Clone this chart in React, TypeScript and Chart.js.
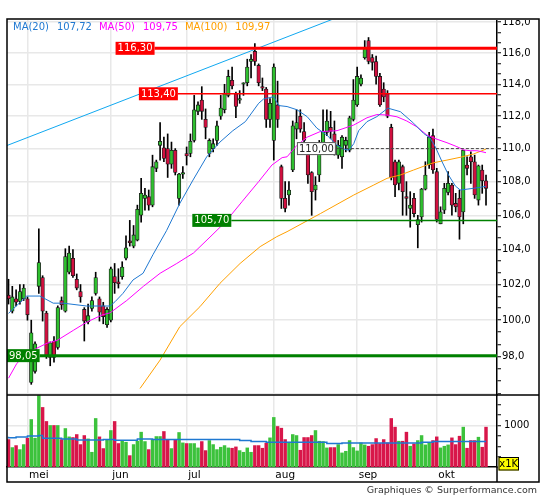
import React, { useEffect, useRef } from 'react';
import { Chart, registerables } from 'chart.js';

Chart.register(...registerables);

// ---------------- data ----------------
const opens = [
  101.4, 100.5, 101.2, 101.05, 101.2, 101.2, 96.6, 97.2, 101.9, 102.4,
  100.4, 97.95, 98.85, 98.5, 101.1, 100.5, 102.7, 103.5, 102.3, 101.6,
  100.6, 99.9, 100.65, 101.5, 101.2, 100.8, 99.75, 100.0, 102.45, 102.15,
  102.45, 103.5, 104.5, 104.2, 104.55, 106.0, 107.0, 107.1, 106.6, 108.8,
  110.2, 110.05, 110.0, 109.05, 109.9, 107.0, 108.45, 109.7, 109.7, 110.5,
  112.3, 113.0, 111.8, 109.7, 110.0, 110.5, 112.0, 112.4, 113.3, 114.25,
  113.4, 113.0, 114.0, 114.1, 115.45, 116.1, 115.2, 113.85, 113.7, 111.8,
  110.5, 112.7, 108.9, 107.0, 107.2, 108.7, 111.2, 112.0, 111.05, 109.7,
  108.55, 107.5, 108.4, 110.25, 111.0, 111.3, 110.9, 109.6, 109.5, 110.2,
  109.9, 111.8, 112.7, 114.0, 115.7, 116.8, 115.7, 115.45, 114.5, 113.7,
  113.4, 111.3, 109.2, 107.9, 108.9, 107.1, 106.4, 107.0, 105.45, 105.9,
  107.55, 109.0, 110.8, 108.6, 105.5, 106.3, 107.35, 107.8, 106.7, 107.0,
  106.2, 109.0, 109.5, 109.2, 106.9, 108.7, 108.05,
];
const highs = [
  102.3, 101.9, 101.7, 102.0, 102.0, 101.3, 100.0, 98.8, 105.2, 102.5,
  100.5, 98.8, 99.1, 100.8, 101.3, 104.05, 104.2, 104.0, 102.6, 102.0,
  100.7, 100.9, 101.3, 102.7, 101.3, 101.0, 100.7, 103.0, 103.2, 102.9,
  103.3, 104.8, 105.7, 105.4, 106.6, 108.2, 107.6, 107.5, 109.6, 109.3,
  111.6, 110.7, 110.9, 110.4, 110.0, 108.5, 108.9, 110.1, 110.9, 113.3,
  112.9, 113.85, 112.45, 110.6, 110.6, 111.7, 113.3, 114.0, 114.9, 115.1,
  113.5, 113.6, 114.1, 115.6, 115.9, 116.6, 115.3, 114.4, 113.8, 113.1,
  115.3, 114.2, 109.0, 108.0, 108.0, 111.7, 112.4, 112.4, 111.6, 109.8,
  108.6, 108.3, 110.5, 112.4, 112.4, 112.3, 111.7, 110.5, 110.8, 110.7,
  112.0, 114.3, 115.1, 114.6, 116.8, 117.0, 115.9, 115.8, 114.7, 114.1,
  113.6, 111.5, 109.3, 109.3, 109.0, 108.0, 107.4, 107.3, 106.0, 107.6,
  109.2, 111.0, 111.2, 108.8, 106.5, 107.9, 108.6, 107.9, 107.3, 107.5,
  109.9, 109.5, 109.8, 109.6, 109.0, 109.0, 108.4,
];
const lows = [
  100.9, 100.4, 100.8, 100.9, 101.1, 100.0, 96.5, 97.1, 101.5, 99.95,
  97.9, 97.5, 97.7, 98.4, 100.6, 100.45, 102.6, 102.4, 101.7, 101.0,
  98.85, 99.8, 100.5, 101.4, 99.95, 99.8, 99.6, 99.9, 101.5, 101.8,
  102.3, 103.4, 104.2, 104.1, 104.5, 105.6, 106.3, 106.3, 106.5, 108.6,
  109.3, 109.2, 108.25, 108.8, 108.4, 106.6, 108.2, 109.0, 109.5, 110.4,
  112.1, 111.8, 110.6, 109.5, 109.8, 110.2, 111.8, 112.2, 113.2, 113.7,
  111.9, 112.8, 113.3, 113.9, 114.4, 115.2, 113.9, 113.6, 111.3, 111.3,
  109.3, 111.3, 106.4, 106.2, 106.6, 108.6, 110.6, 111.0, 110.0, 107.9,
  106.0, 106.9, 108.0, 109.7, 110.8, 110.6, 109.6, 109.4, 108.8, 109.8,
  109.8, 111.7, 112.6, 113.9, 115.6, 115.3, 114.9, 114.0, 112.6, 112.9,
  111.9, 108.1, 107.1, 107.5, 106.0, 106.0, 105.3, 105.9, 104.1, 105.6,
  107.5, 108.8, 108.5, 105.6, 105.5, 106.1, 107.2, 106.0, 106.2, 104.6,
  105.5, 108.4, 107.9, 107.0, 106.6, 107.3, 106.6,
];
const closes = [
  101.2, 101.3, 101.0, 101.6, 101.8, 100.3, 99.3, 98.7, 103.25, 100.5,
  98.0, 98.75, 97.95, 100.7, 100.85, 103.6, 103.8, 102.5, 101.8, 101.3,
  99.95, 100.25, 101.1, 102.4, 100.45, 100.2, 100.6, 102.9, 102.1, 102.05,
  103.0, 104.1, 104.4, 104.85, 106.35, 107.3, 107.2, 106.6, 108.9, 109.2,
  110.45, 109.4, 109.05, 109.9, 108.55, 108.45, 108.55, 109.55, 110.45, 112.4,
  112.7, 112.3, 111.3, 110.5, 110.3, 111.4, 112.5, 113.4, 114.5, 113.9,
  112.6, 113.1, 114.05, 115.1, 115.6, 115.45, 114.1, 113.75, 111.8, 112.8,
  115.1, 111.8, 107.0, 106.4, 107.5, 111.4, 111.6, 111.2, 110.5, 108.4,
  107.4, 107.8, 110.25, 111.05, 111.7, 111.05, 110.3, 110.2, 110.7, 110.5,
  111.9, 113.0, 114.5, 114.4, 116.3, 115.45, 115.4, 114.5, 112.7, 113.2,
  112.0, 108.25, 107.8, 109.2, 107.4, 107.0, 106.6, 106.1, 105.75, 107.55,
  108.4, 110.7, 108.7, 105.75, 106.2, 107.6, 107.9, 106.6, 106.5, 105.9,
  109.9, 108.8, 109.2, 107.2, 108.95, 108.05, 107.6,
];
const volumes = [
  661, 468, 516, 419, 540, 694, 1145, 694, 1720, 1435,
  1097, 1000, 1000, 1000, 661, 927, 726, 710, 782, 540,
  758, 677, 355, 1169, 726, 444, 661, 879, 1097, 565,
  621, 597, 274, 540, 621, 839, 613, 419, 661, 734,
  734, 855, 645, 444, 661, 831, 581, 565, 565, 565,
  460, 613, 395, 637, 540, 419, 476, 516, 460, 452,
  484, 395, 355, 460, 355, 516, 516, 452, 573, 702,
  1194, 976, 935, 661, 597, 782, 758, 403, 710, 710,
  758, 879, 621, 613, 460, 468, 468, 540, 339, 379,
  637, 468, 387, 581, 532, 500, 540, 685, 565, 661,
  581, 1169, 960, 621, 621, 839, 500, 556, 637, 758,
  532, 581, 637, 726, 460, 500, 532, 702, 540, 742,
  960, 452, 637, 637, 718, 476, 960,
];

const monthStartIdx = [5, 27, 47, 70, 92, 113];
const monthLabels = ['mei', 'jun', 'jul', 'aug', 'sep', 'okt'];
const priceTicks = [96, 98, 100, 102, 104, 106, 108, 110, 112, 114, 116, 118];
const priceLabelTicks = [98, 100, 102, 104, 106, 108, 110, 112, 114, 116, 118];
const volumeTicks = [250, 500, 750, 1000, 1250, 1500];
const volumeLabelTicks = [1000];

const ma20Idx = [0, 4.8, 8.3, 11.8, 14.4, 20.6, 26.8, 28.1, 30.2, 32.85, 35.5, 38.1, 41.7, 45.2, 48.7, 52.3, 55.8, 59.2, 62.5, 66, 67.3, 70, 71.3, 73.5, 76.1, 78.8, 81.4, 84, 86.7, 88.4, 89.8, 91.1, 92.4, 94.6, 97.2, 100.1, 103.4, 106.9, 109.5, 111.3, 112.6, 114.4, 116.1, 117.9, 119.2, 121, 122.7, 124.5, 126];
const ma20Val = [100.38, 101.35, 101.35, 100.95, 100.95, 100.79, 100.79, 101.03, 101.5, 102.26, 102.64, 103.7, 105.1, 106.7, 108.1, 109.5, 110.4, 111.1, 111.66, 112.8, 113.07, 113.22, 112.66, 112.6, 112.4, 111.97, 111.25, 110.83, 110.2, 109.98, 109.9, 110.3, 111.1, 111.66, 111.97, 112.5, 112.28, 111.56, 110.94, 110.63, 110.12, 109.2, 108.4, 107.74, 107.5, 107.55, 107.6, 107.66, 107.72];

const ma50Idx = [0, 2.2, 4.9, 7.5, 10.2, 12.8, 17.2, 20.7, 24.7, 26.8, 31.2, 35.6, 40, 44.4, 48.8, 53.7, 57.2, 61.6, 66, 69.5, 72.2, 73.5, 76.1, 78.8, 82.2, 86.7, 91.1, 94.6, 97.2, 99.9, 102.5, 105.1, 107.8, 110.4, 113.1, 115.7, 118.3, 120.1, 121.8, 123.6, 124.9, 126];
const ma50Val = [96.83, 97.63, 98.17, 98.46, 98.73, 98.88, 99.45, 99.9, 100.29, 100.41, 101.1, 101.9, 102.64, 103.2, 103.8, 104.84, 105.6, 106.8, 108.0, 109.0, 109.45, 109.5, 110.2, 110.7, 111.04, 111.1, 111.45, 111.9, 112.1, 112.07, 111.96, 111.7, 111.33, 110.83, 110.57, 110.36, 110.12, 109.92, 109.87, 109.87, 109.81, 109.75];

const ma100Idx = [34.7, 40, 45.2, 50.5, 55.8, 61.1, 66.4, 70.8, 73.5, 82.3, 91.1, 96.4, 99.9, 103.4, 106.9, 110.4, 112.2, 115.7, 119.2, 122.7, 126];
const ma100Val = [96.28, 97.81, 99.64, 100.75, 102.07, 103.2, 104.17, 104.75, 105.04, 106.1, 107.2, 107.8, 108.2, 108.4, 108.7, 109.0, 109.14, 109.3, 109.47, 109.67, 109.97];

const volMaIdx = [0, 2, 5, 8, 9, 14, 18, 25, 28, 34, 38, 61, 64, 68, 84, 88, 109, 112, 121, 126];
const volMaVal = [726, 702, 720, 745, 758, 694, 677, 653, 661, 645, 677, 660, 640, 613, 597, 565, 581, 597, 613, 613];

const trendIdx = [-0.5, 100];
const trendVal = [110.18, 119.6];

const levelValues = [116.3, 113.4, 110.0, 105.7, 98.05];
const levelLabelIdx = [28.25, 34.4, 76.1, 48.5, -0.4];

// ---------------- styles / layout ----------------
const W = 545;
const H = 500;
const PAD_L = 7;
const PAD_R = 6;
const AXIS_W = 42;
const FRAME_TOP = 19;
const SPLIT = 395;
const VOL_BOTTOM = 467;
const DATE_H = 15;
const X_MIN = -0.4;
const X_MAX = 128.9;
const Y_MIN = 95.93;
const Y_MAX = 118.21;
const V_MAX = 1735;

const GREEN = '#2fbf2f';
const RED = '#d1103f';
const VGREEN = '#3cc23c';
const VRED = '#d8164a';
const C20 = '#1f78d1';
const C50 = '#ff00ff';
const C100 = '#ffa000';
const CTREND = '#10a8f0';
const GRID = '#e8e8e8';
const FONT = "'DejaVu Sans', sans-serif";

const levelStyles = [
  { line: '#ff0000', width: 3, fill: '#ff0000', text: '#ffffff', dash: [] as number[], border: '' },
  { line: '#ff0000', width: 1.5, fill: '#ff0000', text: '#ffffff', dash: [] as number[], border: '' },
  { line: '#444444', width: 1, fill: '#ffffff', text: '#222222', dash: [3, 2], border: '#555555' },
  { line: '#008000', width: 1.5, fill: '#008000', text: '#ffffee', dash: [] as number[], border: '' },
  { line: '#008000', width: 3, fill: '#008000', text: '#ffffee', dash: [] as number[], border: '' },
];

const fmt1 = (v: number) => v.toFixed(1).replace('.', ',');
const fmt2 = (v: number) => v.toFixed(2).replace('.', ',');

const inList = (list: number[], v: number) => list.some((t) => Math.abs(t - v) < 1e-6);
const priceTickAll: number[] = (() => {
  const out: number[] = [];
  priceTicks.forEach((t, k) => {
    out.push(t);
    if (k < priceTicks.length - 1) {
      const step = (priceTicks[k + 1] - t) / 3;
      out.push(t + step, t + 2 * step);
    }
  });
  return out.filter((v) => v >= Y_MIN && v <= Y_MAX);
})();

const idx = closes.map((_, i) => i);
const isUp = (i: number) => closes[i] >= opens[i];
const pts = (xs: number[], ys: number[]) => xs.map((x, k) => ({ x, y: ys[k] }));

Chart.defaults.font.family = FONT;
Chart.defaults.font.size = 10;
Chart.defaults.color = '#000';

const levelPlugin = {
  id: 'levels',
  afterDatasetsDraw(chart: any) {
    const { ctx, chartArea: a, scales } = chart;
    const xs = scales.x;
    const ys = scales.y;
    ctx.save();
    ctx.beginPath();
    ctx.rect(a.left, a.top, a.right - a.left, a.bottom - a.top);
    ctx.clip();
    ctx.font = `10px ${FONT}`;
    levelValues.forEach((v, k) => {
      const st = levelStyles[k];
      const y = ys.getPixelForValue(v);
      const text = fmt2(v);
      const tw = ctx.measureText(text).width;
      const bx = xs.getPixelForValue(levelLabelIdx[k]);
      const bw = tw + 4;
      const bh = 13;
      ctx.beginPath();
      ctx.strokeStyle = st.line;
      ctx.lineWidth = st.width;
      ctx.setLineDash(st.dash);
      ctx.moveTo(bx + bw, y);
      ctx.lineTo(a.right, y);
      ctx.stroke();
      ctx.setLineDash([]);
      ctx.fillStyle = st.fill;
      ctx.fillRect(bx, y - bh / 2, bw, bh);
      if (st.border) {
        ctx.strokeStyle = st.border;
        ctx.lineWidth = 1;
        ctx.strokeRect(bx + 0.5, y - bh / 2 + 0.5, bw - 1, bh - 1);
      }
      ctx.fillStyle = st.text;
      ctx.textAlign = 'center';
      ctx.textBaseline = 'middle';
      ctx.fillText(text, bx + bw / 2, y + 0.5);
    });
    ctx.restore();
  },
  afterDraw(chart: any) {
    const { ctx, chartArea: a } = chart;
    const items: [string, string][] = [
      ['MA(20)', C20],
      [fmt2(ma20Val[ma20Val.length - 1]), C20],
      ['MA(50)', C50],
      [fmt2(ma50Val[ma50Val.length - 1]), C50],
      ['MA(100)', C100],
      [fmt2(ma100Val[ma100Val.length - 1]), C100],
    ];
    ctx.save();
    ctx.font = `10px ${FONT}`;
    ctx.textAlign = 'left';
    ctx.textBaseline = 'middle';
    let x = a.left + 6;
    const y = a.top + 8.5;
    items.forEach(([t, c], k) => {
      ctx.fillStyle = c;
      ctx.fillText(t, x, y);
      x += ctx.measureText(t).width + (k % 2 === 0 ? 8 : 7);
    });
    ctx.restore();
  },
};

const framePlugin = {
  id: 'frame',
  afterDraw(chart: any) {
    const { ctx, chartArea: a } = chart;
    const L = a.left;
    const R = a.right + AXIS_W;
    const B = a.bottom + DATE_H;
    ctx.save();
    ctx.fillStyle = '#ffffff';
    ctx.fillRect(0, 0, W, FRAME_TOP + 1);
    ctx.strokeStyle = '#000';
    ctx.lineWidth = 1.5;
    ctx.strokeRect(L, FRAME_TOP, R - L, B - FRAME_TOP);
    ctx.beginPath();
    ctx.moveTo(L, a.top);
    ctx.lineTo(R, a.top);
    ctx.moveTo(a.right, a.bottom);
    ctx.lineTo(a.right, B);
    ctx.stroke();
    // x1K box
    const bx = a.right + 1.5;
    const by = a.bottom - 10;
    ctx.fillStyle = '#ffff00';
    ctx.fillRect(bx, by, 20.5, 13.5);
    ctx.lineWidth = 1;
    ctx.strokeStyle = '#000';
    ctx.strokeRect(bx + 0.5, by + 0.5, 19.5, 12.5);
    ctx.fillStyle = '#000';
    ctx.font = `10px ${FONT}`;
    ctx.textAlign = 'center';
    ctx.textBaseline = 'middle';
    ctx.fillText('x1K', bx + 10.25, by + 7);
    // footer
    ctx.font = `9.5px ${FONT}`;
    ctx.fillStyle = '#333';
    ctx.textAlign = 'right';
    ctx.fillText('Graphiques \u00A9 Surperformance.com', 537, 491);
    ctx.restore();
  },
};

export default function App() {
  const priceRef = useRef<HTMLCanvasElement>(null);
  const volRef = useRef<HTMLCanvasElement>(null);

  useEffect(() => {
    const xBase = {
      type: 'linear' as const,
      min: X_MIN,
      max: X_MAX,
      offset: false,
      afterBuildTicks: (s: any) => {
        s.ticks = monthStartIdx.map((v) => ({ value: v }));
      },
    };

    const priceChart = new Chart(priceRef.current as HTMLCanvasElement, {
      type: 'bar',
      data: {
        datasets: [
          {
            type: 'bar',
            data: idx.map((i) => ({ x: i, y: [lows[i], highs[i]] })) as any,
            backgroundColor: '#000',
            borderWidth: 0,
            barThickness: 1,
            grouped: false,
            order: 6,
          } as any,
          {
            type: 'bar',
            data: idx.map((i) => ({ x: i, y: [opens[i], closes[i]] })) as any,
            backgroundColor: idx.map((i) => (isUp(i) ? GREEN : RED)),
            borderColor: '#1a1a1a',
            borderWidth: 0.8,
            borderSkipped: false,
            barThickness: 3.6,
            minBarLength: 1.5,
            grouped: false,
            order: 5,
          } as any,
          {
            type: 'line',
            data: pts(ma100Idx, ma100Val),
            borderColor: C100,
            borderWidth: 1,
            pointRadius: 0,
            order: 4,
          } as any,
          {
            type: 'line',
            data: pts(ma50Idx, ma50Val),
            borderColor: C50,
            borderWidth: 1,
            pointRadius: 0,
            order: 3,
          } as any,
          {
            type: 'line',
            data: pts(ma20Idx, ma20Val),
            borderColor: C20,
            borderWidth: 1,
            pointRadius: 0,
            order: 2,
          } as any,
          {
            type: 'line',
            data: pts(trendIdx, trendVal),
            borderColor: CTREND,
            borderWidth: 1,
            pointRadius: 0,
            order: 1,
          } as any,
        ],
      },
      options: {
        responsive: false,
        animation: false,
        events: [],
        layout: { padding: { left: PAD_L, right: PAD_R, top: FRAME_TOP, bottom: H - SPLIT } },
        plugins: { legend: { display: false }, tooltip: { enabled: false } },
        scales: {
          x: {
            ...xBase,
            ticks: { display: false },
            grid: { color: GRID, lineWidth: 1.5, drawTicks: false, offset: false },
            border: { display: false },
            afterFit: (s: any) => {
              s.height = 0;
            },
          } as any,
          y: {
            type: 'logarithmic',
            position: 'right',
            min: Y_MIN,
            max: Y_MAX,
            afterBuildTicks: (s: any) => {
              s.ticks = priceTickAll.map((v) => ({ value: v }));
            },
            ticks: {
              autoSkip: false,
              padding: 1,
              font: { size: 10 },
              color: '#000',
              callback: (v: any) => (inList(priceLabelTicks, Number(v)) ? fmt1(Number(v)) : ''),
            },
            grid: {
              color: (c: any) => (c.tick && inList(priceTicks, c.tick.value) ? GRID : 'rgba(0,0,0,0)'),
              lineWidth: 1.5,
              tickColor: '#000',
              tickWidth: 1,
              tickLength: 4,
            },
            border: { display: true, color: '#000', width: 1.5 },
            afterFit: (s: any) => {
              s.width = AXIS_W;
            },
          } as any,
        },
      },
      plugins: [levelPlugin],
    });

    const volChart = new Chart(volRef.current as HTMLCanvasElement, {
      type: 'bar',
      data: {
        datasets: [
          {
            type: 'bar',
            data: idx.map((i) => ({ x: i, y: volumes[i] })),
            backgroundColor: idx.map((i) => (isUp(i) ? VGREEN : VRED)),
            borderWidth: 0,
            barThickness: 2.8,
            grouped: false,
            order: 2,
          } as any,
          {
            type: 'line',
            data: pts(volMaIdx, volMaVal),
            borderColor: C20,
            borderWidth: 1.5,
            pointRadius: 0,
            stepped: 'after',
            order: 1,
          } as any,
        ],
      },
      options: {
        responsive: false,
        animation: false,
        events: [],
        layout: { padding: { left: PAD_L, right: PAD_R, top: SPLIT, bottom: H - VOL_BOTTOM - DATE_H } },
        plugins: { legend: { display: false }, tooltip: { enabled: false } },
        scales: {
          x: {
            ...xBase,
            ticks: {
              autoSkip: false,
              maxRotation: 0,
              align: 'start',
              labelOffset: 1.5,
              padding: 2,
              font: { size: 10.5 },
              color: '#000',
              callback: (v: any) => {
                const k = monthStartIdx.indexOf(Number(v));
                return k >= 0 ? monthLabels[k] : '';
              },
            },
            grid: { color: GRID, lineWidth: 1.5, drawTicks: false, offset: false },
            border: { display: true, color: '#000', width: 1.5 },
            afterFit: (s: any) => {
              s.height = DATE_H;
            },
          } as any,
          y: {
            type: 'linear',
            position: 'right',
            min: 0,
            max: V_MAX,
            afterBuildTicks: (s: any) => {
              s.ticks = volumeTicks.map((v) => ({ value: v }));
            },
            ticks: {
              autoSkip: false,
              padding: 3,
              font: { size: 10 },
              color: '#000',
              callback: (v: any) => (volumeLabelTicks.includes(Number(v)) ? String(v) : ''),
            },
            grid: {
              color: (c: any) => (c.tick && volumeLabelTicks.includes(c.tick.value) ? GRID : 'rgba(0,0,0,0)'),
              lineWidth: 1.5,
              tickColor: '#000',
              tickWidth: 1,
              tickLength: 4,
            },
            border: { display: true, color: '#000', width: 1.5 },
            afterFit: (s: any) => {
              s.width = AXIS_W;
            },
          } as any,
        },
      },
      plugins: [framePlugin],
    });

    return () => {
      priceChart.destroy();
      volChart.destroy();
    };
  }, []);

  return (
    <div style={{ position: 'fixed', left: 0, top: 0, width: W, height: H, background: '#ffffff' }}>
      <canvas ref={priceRef} width={W} height={H} style={{ position: 'absolute', left: 0, top: 0 }} />
      <canvas ref={volRef} width={W} height={H} style={{ position: 'absolute', left: 0, top: 0 }} />
    </div>
  );
}
